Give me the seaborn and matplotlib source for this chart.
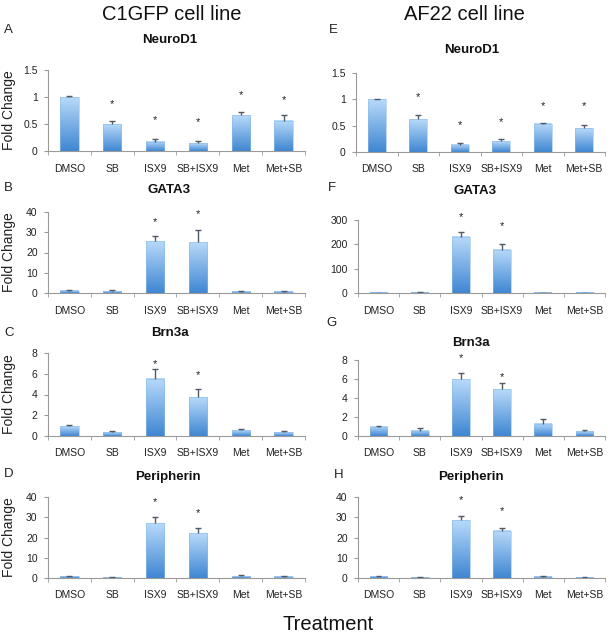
import numpy as np
import pandas as pd
import matplotlib
matplotlib.use("Agg")
import matplotlib.pyplot as plt
import seaborn as sns
from matplotlib.colors import LinearSegmentedColormap

# -----------------------------
# DATA
# -----------------------------

treatments = ["DMSO", "SB", "ISX9", "SB+ISX9", "Met", "Met+SB"]

# C1GFP cell line
c1_neurod1 = [1.0, 0.50, 0.17, 0.14, 0.66, 0.56]
c1_neurod1_err = [0.01, 0.06, 0.05, 0.04, 0.07, 0.11]
c1_neurod1_star = [np.nan, 0.87, 0.57, 0.53, 1.04, 0.94]

c1_gata3 = [1.0, 0.8, 25.5, 25.0, 0.7, 0.5]
c1_gata3_err = [0.3, 0.5, 2.5, 6.0, 0.5, 0.3]
c1_gata3_star = [np.nan, np.nan, 35.0, 38.9, np.nan, np.nan]

c1_brn3a = [0.95, 0.35, 5.5, 3.75, 0.55, 0.35]
c1_brn3a_err = [0.08, 0.15, 1.0, 0.8, 0.12, 0.10]
c1_brn3a_star = [np.nan, np.nan, 6.9, 5.9, np.nan, np.nan]

c1_peripherin = [0.9, 0.4, 27.0, 22.0, 0.9, 0.5]
c1_peripherin_err = [0.3, 0.2, 3.3, 2.5, 0.4, 0.3]
c1_peripherin_star = [np.nan, np.nan, 37.5, 32.0, np.nan, np.nan]

# AF22 cell line
af_neurod1 = [1.0, 0.62, 0.14, 0.20, 0.54, 0.45]
af_neurod1_err = [0.01, 0.08, 0.03, 0.05, 0.01, 0.07]
af_neurod1_star = [np.nan, 1.04, 0.51, 0.57, 0.87, 0.87]

af_gata3 = [1.0, 2.0, 232.0, 178.0, 1.0, 1.0]
af_gata3_err = [0.5, 1.0, 20.0, 22.0, 0.5, 0.5]
af_gata3_star = [np.nan, np.nan, 311.0, 277.0, np.nan, np.nan]

af_brn3a = [0.95, 0.55, 6.0, 4.9, 1.3, 0.5]
af_brn3a_err = [0.07, 0.3, 0.6, 0.7, 0.5, 0.1]
af_brn3a_star = [np.nan, np.nan, 8.2, 6.25, np.nan, np.nan]

af_peripherin = [0.9, 0.4, 28.5, 23.3, 0.7, 0.4]
af_peripherin_err = [0.3, 0.2, 2.3, 1.5, 0.3, 0.2]
af_peripherin_star = [np.nan, np.nan, 38.4, 33.0, np.nan, np.nan]

# -----------------------------
# STYLE
# -----------------------------

sns.set_style("white")
plt.rcParams["font.family"] = ["Liberation Sans", "DejaVu Sans"]

W, H = 612, 638
bar_cmap = LinearSegmentedColormap.from_list("bar", ["#3f86d2", "#b8dafa"])
grey = "#9a9a9a"


def rect(x0, x1, ytop, ybot):
    return [x0 / W, 1 - ybot / H, (x1 - x0) / W, (ybot - ytop) / H]


def fig_text(fig, x, y, s, **kw):
    fig.text(x / W, 1 - y / H, s, va="center", **kw)


def bar_panel(fig, box, vals, errs, stars, yticks, ylabels):
    ax = fig.add_axes(box)
    df = pd.DataFrame({"treatment": treatments, "value": vals})
    sns.barplot(data=df, x="treatment", y="value", order=treatments,
                width=0.43, errorbar=None, color="#6aa6e0", ax=ax)

    # vertical gradient fill in each bar
    grad = np.linspace(0, 1, 256).reshape(-1, 1)
    for bar in ax.patches:
        x0, y0 = bar.get_x(), bar.get_y()
        w, h = bar.get_width(), bar.get_height()
        bar.set_facecolor("none")
        bar.set_edgecolor("#8dbbe8")
        bar.set_linewidth(0.4)
        bar.set_zorder(2)
        ax.imshow(grad, extent=[x0, x0 + w, y0, y0 + h], origin="lower",
                  cmap=bar_cmap, aspect="auto", zorder=1)

    # upper-only error bars
    xs = np.arange(len(vals))
    tops = np.array(vals) + np.array(errs)
    ax.vlines(xs, vals, tops, color="#505a66", lw=1, zorder=3)
    ax.hlines(tops, xs - 0.07, xs + 0.07, color="#505a66", lw=1, zorder=3)

    for x, s in zip(xs, stars):
        if not np.isnan(s):
            ax.text(x, s, "*", ha="center", va="center", fontsize=8, color="#222222")

    ax.set_xlim(-0.5, len(vals) - 0.5)
    ax.set_ylim(yticks[0], yticks[-1])
    ax.set_yticks(yticks)
    ax.set_yticklabels(ylabels)
    ax.set_xticks(xs)
    ax.set_xticklabels(treatments)
    ax.set_xticks(np.arange(-0.5, len(vals), 1), minor=True)
    ax.set_xlabel("")
    ax.set_ylabel("")

    for side in ["top", "right"]:
        ax.spines[side].set_visible(False)
    for side in ["left", "bottom"]:
        ax.spines[side].set_color(grey)
        ax.spines[side].set_linewidth(0.8)

    ax.tick_params(axis="x", which="major", length=0, pad=9, labelsize=7.5, labelcolor="#222222")
    ax.tick_params(axis="x", which="minor", length=3, color=grey, bottom=True)
    ax.tick_params(axis="y", length=3, color=grey, left=True, labelsize=7.5,
                   labelcolor="#222222", pad=4.5)
    return ax


fig = plt.figure(figsize=(W / 100, H / 100), dpi=100)

panels = [
    # letter, title, vals, errs, stars, yticks, ylabels, box, letter xy, title xy, fold label
    ("A", "NeuroD1", c1_neurod1, c1_neurod1_err, c1_neurod1_star,
     [0, 0.5, 1, 1.5], ["0", "0.5", "1", "1.5"], rect(48, 305, 70, 151), (4, 30), (170, 40), True),
    ("B", "GATA3", c1_gata3, c1_gata3_err, c1_gata3_star,
     [0, 10, 20, 30, 40], ["0", "10", "20", "30", "40"], rect(48, 305, 212, 293), (4, 188), (169, 190), True),
    ("C", "Brn3a", c1_brn3a, c1_brn3a_err, c1_brn3a_star,
     [0, 2, 4, 6, 8], ["0", "2", "4", "6", "8"], rect(48, 305, 353, 436), (4, 333), (170, 333), True),
    ("D", "Peripherin", c1_peripherin, c1_peripherin_err, c1_peripherin_star,
     [0, 10, 20, 30, 40], ["0", "10", "20", "30", "40"], rect(48, 305, 497, 578), (4, 474), (168, 477), True),
    ("E", "NeuroD1", af_neurod1, af_neurod1_err, af_neurod1_star,
     [0, 0.5, 1, 1.5], ["0", "0.5", "1", "1.5"], rect(356, 605, 73, 152), (329, 30), (472, 50), False),
    ("F", "GATA3", af_gata3, af_gata3_err, af_gata3_star,
     [0, 100, 200, 300], ["0", "100", "200", "300"], rect(358, 605, 220, 293), (328, 188), (475, 191), False),
    ("G", "Brn3a", af_brn3a, af_brn3a_err, af_brn3a_star,
     [0, 2, 4, 6, 8], ["0", "2", "4", "6", "8"], rect(358, 605, 360, 436), (326, 323), (471, 343), False),
    ("H", "Peripherin", af_peripherin, af_peripherin_err, af_peripherin_star,
     [0, 10, 20, 30, 40], ["0", "10", "20", "30", "40"], rect(358, 605, 497, 578), (334, 475), (471, 477), False),
]

for letter, title, vals, errs, stars, yt, yl, box, lxy, txy, fold in panels:
    ax = bar_panel(fig, box, vals, errs, stars, yt, yl)
    fig_text(fig, lxy[0], lxy[1], letter, ha="left", fontsize=9.5, color="#222222")
    fig_text(fig, txy[0], txy[1], title, ha="center", fontsize=9.5, fontweight="bold", color="#111111")
    if fold:
        ycen = (1 - box[1] - box[3] / 2) * H
        fig_text(fig, 9, ycen, "Fold Change", ha="center", rotation=90, fontsize=10, color="#222222")

fig_text(fig, 172, 15, "C1GFP cell line", ha="center", fontsize=14.5, color="#111111")
fig_text(fig, 464, 15, "AF22 cell line", ha="center", fontsize=14.5, color="#111111")
fig_text(fig, 328, 624, "Treatment", ha="center", fontsize=14.5, color="#111111")

plt.savefig("out.png", dpi=100)
